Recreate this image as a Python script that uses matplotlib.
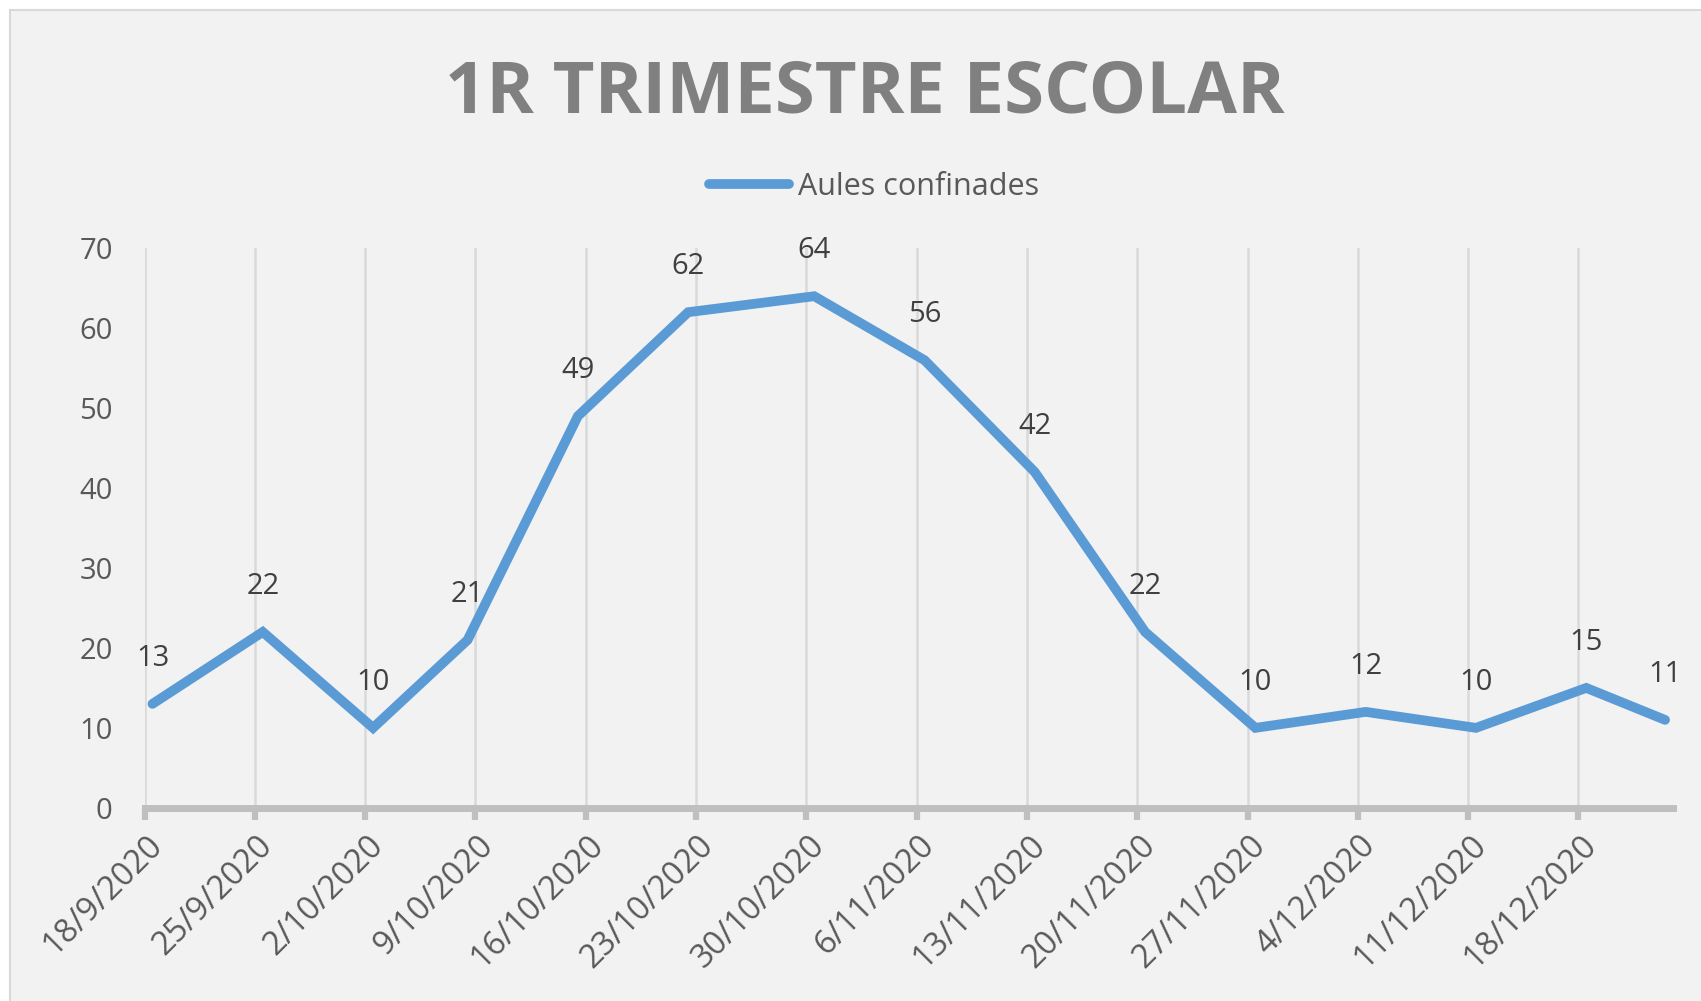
import datetime as dt
import matplotlib
matplotlib.use('Agg')
from matplotlib import pyplot as plt
import matplotlib.dates as mdates
from matplotlib.patches import Rectangle
from matplotlib.transforms import ScaledTranslation

plt.rcParams['font.family'] = ['Open Sans', 'DejaVu Sans']

# data
dates = ['18/9/2020', '25/9/2020', '2/10/2020', '8/10/2020', '15/10/2020',
         '22/10/2020', '30/10/2020', '6/11/2020', '13/11/2020', '20/11/2020',
         '27/11/2020', '4/12/2020', '11/12/2020', '18/12/2020', '23/12/2020']
aules = [13, 22, 10, 21, 49, 62, 64, 56, 42, 22, 10, 12, 10, 15, 11]
tick_labels = ['18/9/2020', '25/9/2020', '2/10/2020', '9/10/2020', '16/10/2020',
               '23/10/2020', '30/10/2020', '6/11/2020', '13/11/2020', '20/11/2020',
               '27/11/2020', '4/12/2020', '11/12/2020', '18/12/2020']
axis_start = '18/9/2020'
axis_end = '24/12/2020'
yticks = [0, 10, 20, 30, 40, 50, 60, 70]

title = '1R TRIMESTRE ESCOLAR'
series_name = 'Aules confinades'

line_color = '#5B9BD5'


def to_num(s):
    return mdates.date2num(dt.datetime.strptime(s, '%d/%m/%Y'))


# points sit in the middle of their day (Excel date axis)
xs = [to_num(d) + 0.5 for d in dates]
xticks = [to_num(d) for d in tick_labels]

fig = plt.figure(figsize=(17.01, 10.01), dpi=100)
fig.patch.set_facecolor('white')
fig.add_artist(Rectangle((10 / 1701, -0.01), 1.0, 1 - 10 / 1001 + 0.01,
                         transform=fig.transFigure, facecolor='#F2F2F2',
                         edgecolor='#D9D9D9', lw=1.5, zorder=-5))

ax = fig.add_axes([0.085, 0.193, 0.8985, 0.559])
ax.patch.set_visible(False)

ax.plot(xs, aules, color=line_color, lw=7, solid_capstyle='round',
        solid_joinstyle='miter', zorder=3)

for x, v in zip(xs, aules):
    ax.annotate(str(v), (x, v), xytext=(0, 33), textcoords='offset points',
                ha='center', va='center', fontsize=21, color='#404040',
                annotation_clip=False)

ax.set_xlim(to_num(axis_start), to_num(axis_end))
ax.set_ylim(0, 70)
ax.set_yticks(yticks)
ax.set_xticks(xticks)
ax.set_xticklabels(tick_labels)

ax.set_axisbelow(True)
ax.grid(axis='x', color='#D9D9D9', lw=1.8)
ax.grid(axis='y', visible=False)

for side in ['left', 'right', 'top']:
    ax.spines[side].set_visible(False)
ax.spines['bottom'].set_color('#BFBFBF')
ax.spines['bottom'].set_linewidth(5)

ax.tick_params(axis='y', length=0, pad=23, labelsize=21, labelcolor='#595959')
ax.tick_params(axis='x', length=8.5, width=4.5, color='#BFBFBF', direction='out',
               pad=15, labelsize=23.5, labelcolor='#595959')

shift = ScaledTranslation(0.13, 0, fig.dpi_scale_trans)
for lab in ax.get_xticklabels():
    lab.set_rotation(45)
    lab.set_ha('right')
    lab.set_va('center')
    lab.set_rotation_mode('anchor')
    lab.set_transform(lab.get_transform() + shift)

fig.text(0.5086, 0.907, title, ha='center', va='center', fontsize=52,
         fontweight='bold', color='#808080')

handle = plt.Line2D([], [], color=line_color, lw=7, solid_capstyle='round')
ax.legend([handle], [series_name], loc='center', bbox_to_anchor=(0.514, 0.813),
          bbox_transform=fig.transFigure, frameon=False, fontsize=22,
          handlelength=2.6, handletextpad=0.3, labelcolor='#595959')

plt.savefig('out.png', dpi=100)
plt.close()
